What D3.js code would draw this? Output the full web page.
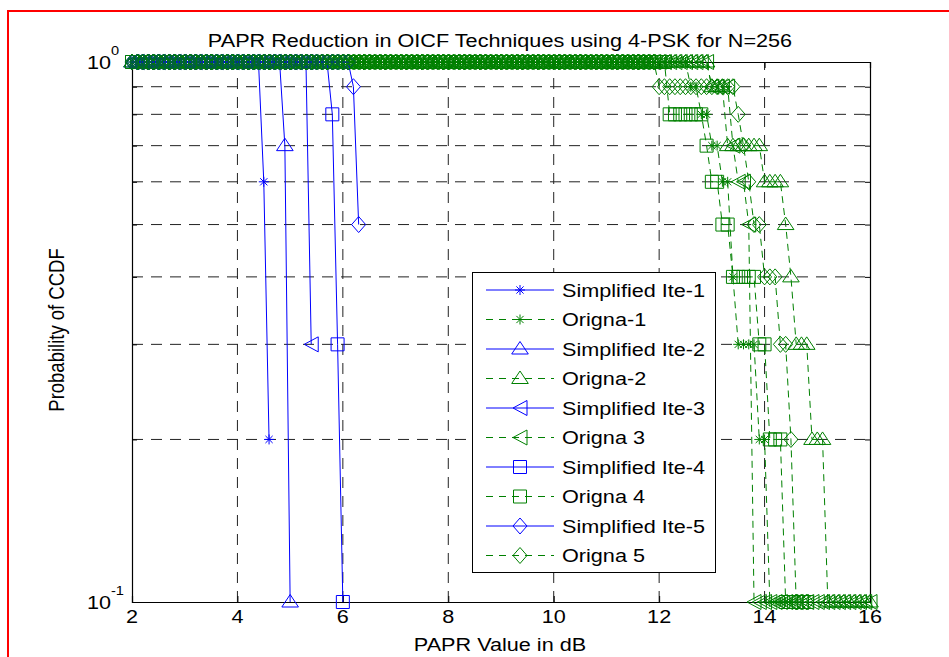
<!DOCTYPE html>
<html><head><meta charset="utf-8">
<script src="https://cdn.jsdelivr.net/npm/d3@7"></script>
<style>
body{margin:0;background:#fff}
text{font-family:"Liberation Sans",Arial,Helvetica,sans-serif;fill:#000}
</style>
</head><body>
<svg id="chart" width="949" height="657"></svg>
<script>
// ---------------- data ----------------
const titleText = "PAPR Reduction in OICF Techniques using 4-PSK for N=256";
const xLabelText = "PAPR Value in dB";
const yLabelText = "Probability of CCDF";
const xTickValues = [2, 4, 6, 8, 10, 12, 14, 16];
const xTickLabels = ["2", "4", "6", "8", "10", "12", "14", "16"];
const yMajorTicks = [0.1, 1];
const yMajorLabels = [["10", "-1"], ["10", "0"]];
const yMinorTicks = [0.2, 0.3, 0.4, 0.5, 0.6, 0.7, 0.8, 0.9];

// Each run: [ccdf value, first PAPR (dB), last PAPR (dB)]
const simplified1 = [[1, 2.0, 4.4], [0.6, 4.5, 4.5], [0.2, 4.6, 4.6]];
const origna1     = [[1, 2.0, 12.5], [0.9, 12.6, 12.7], [0.8, 12.8, 12.9], [0.7, 13.0, 13.1], [0.6, 13.2, 13.3], [0.4, 13.4, 13.4], [0.3, 13.5, 13.8], [0.2, 13.9, 14.0], [0.1, 14.1, 14.5]];
const simplified2 = [[1, 2.0, 4.8], [0.7, 4.9, 4.9], [0.1, 5.0, 5.0]];
const origna2     = [[1, 2.0, 12.9], [0.9, 13.0, 13.2], [0.7, 13.3, 13.9], [0.6, 14.0, 14.3], [0.5, 14.4, 14.4], [0.4, 14.5, 14.5], [0.3, 14.6, 14.8], [0.2, 14.9, 15.1], [0.1, 15.2, 16.0]];
const simplified3 = [[1, 2.0, 5.3], [0.3, 5.4, 5.4]];
const origna3     = [[1, 2.0, 12.9], [0.9, 13.0, 13.3], [0.7, 13.4, 13.4], [0.6, 13.5, 13.6], [0.5, 13.7, 13.7], [0.1, 13.8, 16.0]];
const simplified4 = [[1, 2.0, 5.7], [0.8, 5.8, 5.8], [0.3, 5.9, 5.9], [0.1, 6.0, 6.0]];
const origna4     = [[1, 2.0, 12.1], [0.8, 12.2, 12.8], [0.7, 12.9, 12.9], [0.6, 13.0, 13.1], [0.5, 13.2, 13.3], [0.4, 13.4, 13.8], [0.3, 13.9, 14.0], [0.2, 14.1, 14.3], [0.1, 14.4, 14.8]];
const simplified5 = [[1, 2.0, 6.1], [0.9, 6.2, 6.2], [0.5, 6.3, 6.3]];
const origna5     = [[1, 2.0, 11.9], [0.9, 12.0, 13.4], [0.8, 13.5, 13.5], [0.7, 13.6, 13.6], [0.6, 13.7, 13.7], [0.5, 13.8, 13.9], [0.4, 14.0, 14.2], [0.3, 14.3, 14.4], [0.2, 14.5, 14.5], [0.1, 14.6, 14.8]];

const seriesNames = ["Simplified Ite-1", "Origna-1", "Simplified Ite-2", "Origna-2", "Simplified Ite-3",
                     "Origna 3", "Simplified Ite-4", "Origna 4", "Simplified Ite-5", "Origna 5"];
const seriesRuns = [simplified1, origna1, simplified2, origna2, simplified3, origna3, simplified4, origna4, simplified5, origna5];
const seriesMarkers = ["asterisk", "asterisk", "triangle", "triangle", "left", "left", "square", "square", "diamond", "diamond"];
const seriesKinds = ["simp", "orig", "simp", "orig", "simp", "orig", "simp", "orig", "simp", "orig"];

// ---------------- styles ----------------
const BLUE = "#0000ff", GREEN = "#008000";
const SX = 1.17; // horizontal stretch of the lettering in the reference
const W = 949, H = 657;
const plot = {left: 132, right: 870, top: 62, bottom: 602};

const svg = d3.select("#chart");
svg.append("rect").attr("width", W).attr("height", H).attr("fill", "#fff");

const x = d3.scaleLinear().domain([2, 16]).range([plot.left, plot.right]);
const y = d3.scaleLog().domain([0.1, 1]).range([plot.bottom, plot.top]);

function expand(runs) {
  const pts = [];
  runs.forEach(([v, a, b]) => {
    for (let k = Math.round(a * 10); k <= Math.round(b * 10); k++) pts.push({x: k / 10, y: v});
  });
  return pts;
}

function markerPath(type) {
  switch (type) {
    case "asterisk": { const r = 5, d = 3.6;
      return `M${-r},0L${r},0M0,${-r}L0,${r}M${-d},${-d}L${d},${d}M${-d},${d}L${d},${-d}`; }
    case "triangle": return "M0,-7.5L8.3,5L-8.3,5Z";
    case "left": return "M-7,0L7,-7.5L7,7.5Z";
    case "square": return "M-6.5,-6.5L6.5,-6.5L6.5,6.5L-6.5,6.5Z";
    case "diamond": return "M0,-8L7,0L0,8L-7,0Z";
  }
}

function label(sel, px, py, str, size, anchor, rotate) {
  const tr = rotate
    ? `translate(${px},${py}) rotate(-90) scale(1,${SX})`
    : `translate(${px},${py}) scale(${SX},1)`;
  return sel.append("text").attr("transform", tr).attr("text-anchor", anchor)
    .attr("font-size", size).text(str);
}

// red frame around the figure
svg.append("path").attr("d", `M8,${H + 5}L8,11L${W + 5},11`)
  .attr("fill", "none").attr("stroke", "#ff0000").attr("stroke-width", 2);

// ---------------- grid ----------------
const grid = svg.append("g").attr("stroke", "#222").attr("stroke-width", 1)
  .attr("stroke-dasharray", "11,8").attr("fill", "none");
xTickValues.filter(v => v > 2 && v < 16).forEach(v => {
  grid.append("line").attr("x1", x(v)).attr("x2", x(v)).attr("y1", plot.bottom).attr("y2", plot.top);
});
yMinorTicks.forEach(v => {
  grid.append("line").attr("x1", plot.left).attr("x2", plot.right).attr("y1", y(v)).attr("y2", y(v));
});

// ---------------- axes (inward ticks) ----------------
const axB = svg.append("g").attr("transform", `translate(0,${plot.bottom})`)
  .call(d3.axisBottom(x).tickValues(xTickValues).tickSize(-6).tickFormat(""));
const axT = svg.append("g").attr("transform", `translate(0,${plot.top})`)
  .call(d3.axisTop(x).tickValues(xTickValues).tickSize(-6).tickFormat(""));
const axL = svg.append("g").attr("transform", `translate(${plot.left},0)`)
  .call(d3.axisLeft(y).tickValues(yMinorTicks.concat(yMajorTicks)).tickSize(-5).tickFormat(""));
const axR = svg.append("g").attr("transform", `translate(${plot.right},0)`)
  .call(d3.axisRight(y).tickValues(yMinorTicks.concat(yMajorTicks)).tickSize(-5).tickFormat(""));
[axB, axT, axL, axR].forEach(a => {
  a.select(".domain").attr("stroke", "#000").attr("stroke-width", 1.2);
  a.selectAll(".tick line").attr("stroke", "#000");
});

// tick labels
xTickValues.forEach((v, i) => label(svg, x(v), 623, xTickLabels[i], 18.5, "middle"));
yMajorTicks.forEach((v, i) => {
  label(svg, 111, y(v) + 7, yMajorLabels[i][0], 18.5, "end");
  label(svg, 111, y(v) - 7, yMajorLabels[i][1], 12.5, "start");
});

// ---------------- series ----------------
const lineGen = d3.line().x(d => x(d.x)).y(d => y(d.y));
const plotG = svg.append("g");
seriesRuns.forEach((runs, i) => {
  const pts = expand(runs);
  const col = seriesKinds[i] === "simp" ? BLUE : GREEN;
  const g = plotG.append("g");
  g.append("path").datum(pts).attr("d", lineGen).attr("fill", "none")
    .attr("stroke", col).attr("stroke-width", 1)
    .attr("stroke-dasharray", seriesKinds[i] === "orig" ? "7,5" : null);
  g.selectAll("path.m").data(pts).join("path").attr("class", "m")
    .attr("transform", d => `translate(${x(d.x)},${y(d.y)})`)
    .attr("d", markerPath(seriesMarkers[i])).attr("fill", "none")
    .attr("stroke", col).attr("stroke-width", 1);
});

// ---------------- legend ----------------
const leg = svg.append("g");
leg.append("rect").attr("x", 472.5).attr("y", 272.5).attr("width", 243).attr("height", 300)
  .attr("fill", "#fff").attr("stroke", "#000").attr("stroke-width", 1);
seriesNames.forEach((name, i) => {
  const cy = 290 + i * 29.5;
  const col = seriesKinds[i] === "simp" ? BLUE : GREEN;
  leg.append("line").attr("x1", 486).attr("x2", 554).attr("y1", cy).attr("y2", cy)
    .attr("stroke", col).attr("stroke-width", 1)
    .attr("stroke-dasharray", seriesKinds[i] === "orig" ? "7,6" : null);
  leg.append("path").attr("transform", `translate(520,${cy})`).attr("d", markerPath(seriesMarkers[i]))
    .attr("fill", "none").attr("stroke", col).attr("stroke-width", 1);
  label(leg, 562, cy + 6.5, name, 18.5, "start");
});

// ---------------- titles ----------------
label(svg, 500, 47, titleText, 18.5, "middle");
label(svg, 500, 651, xLabelText, 18.5, "middle");
label(svg, 64, 330, yLabelText, 18.5, "middle", true);
</script>
</body></html>
